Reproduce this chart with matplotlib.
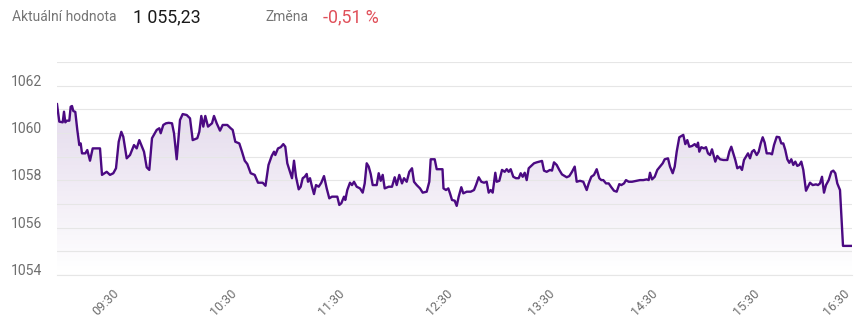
import numpy as np
import matplotlib.pyplot as plt
from matplotlib.patches import PathPatch
from matplotlib.colors import to_rgb

plt.rcParams['font.family'] = ['Roboto', 'DejaVu Sans']

# intraday quotes, position on the (ordinal) time axis and index value
pos = [0, 2.3, 5.7, 7, 8.3, 9.7, 12.3, 13.7, 15, 16.3, 18.3, 20.3, 22.3, 23.7, 25, 28.3, 30.3, 33, 35.7, 43,
       45, 49.7, 53, 56.3, 59, 61.7, 64.3, 66.3, 69.7, 73, 77, 79.7, 82.3, 85, 87, 89.7, 92.3, 95, 99.7, 102.3,
       103.7, 106.3, 109, 111.7, 115, 117, 119.7, 123, 125.7, 129.7, 133, 135.7, 140.3, 142.3, 144.3, 146.3, 148.3, 151, 155, 157,
       159.7, 163, 165.7, 170.3, 173.7, 175.7, 178.3, 182.3, 185, 187.7, 190.3, 193.7, 197.7, 201, 205.7, 208.5, 211.5, 214.7, 217, 218.3,
       221, 223.7, 226.3, 228.3, 230.3, 233, 235, 237, 239, 241.7, 243.7, 245.7, 247.7, 249.7, 251, 253, 255, 257, 259, 261.7,
       264.3, 267, 269.7, 272.3, 275, 280.3, 282.3, 284.3, 287, 288.3, 290.3, 293, 295, 297, 299.7, 303, 305.7, 307.7, 309.7, 311.7,
       313.7, 315.7, 319.7, 321.7, 323.7, 325.7, 327.7, 331.7, 335, 337.7, 339.7, 342.3, 345, 347, 349.7, 352.3, 355, 357, 359.7, 363,
       365.7, 369.7, 372.3, 373.7, 377.7, 379.7, 385.5, 386.5, 389, 391.3, 393, 395, 397.7, 399.7, 401.7, 404.3, 406.3, 409.7, 413.7, 417,
       419, 421.7, 424.3, 427, 429.7, 431.7, 433.7, 435.7, 438.3, 439.7, 442.3, 445, 447.7, 449.7, 451.7, 453.7, 456.3, 459, 461.7, 463.7,
       465.7, 467.7, 469.7, 471.7, 474.3, 477, 479.7, 485, 487, 489.7, 493, 495, 497, 499.7, 502.3, 505, 507.7, 509.7, 512.3, 515,
       517.7, 519.7, 523, 526.3, 529.7, 531.7, 534.3, 537, 539.7, 542.3, 544.3, 546.3, 549, 551.7, 554.3, 557, 559.7, 562.3, 564.3, 567,
       569, 571.7, 575, 579.7, 583, 586.3, 589.7, 591.7, 593, 595, 597.7, 600.3, 603, 605.7, 607.7, 611, 613, 615.7, 617.7, 619.7,
       622.3, 624.3, 626.3, 628.3, 630.3, 632.3, 635, 637.7, 639.7, 641, 642.3, 644.3, 647, 649, 651, 653, 655, 657, 658.3, 660.3,
       663, 666.3, 670.3, 672.3, 674.3, 676.3, 678.3, 680.3, 683, 685, 687, 689, 691, 693, 695, 697, 699.7, 701.7, 703.7, 705.7,
       707.7, 709.7, 713, 715, 717, 719.7, 722.3, 724.3, 726.3, 728.3, 730.3, 732.3, 734.3, 736.3, 738.3, 740.3, 742.3, 744.3, 746.3, 749,
       751, 753, 755.7, 759, 761, 763, 765, 767, 769, 771.7, 774.3, 776.3, 778.3, 780.3, 783, 786, 795]
values = [1061.22, 1060.48, 1060.45, 1060.90, 1060.45, 1060.52, 1060.52, 1061.11, 1061.14, 1060.93, 1060.89, 1060.13, 1059.49, 1059.56, 1059.14, 1059.14, 1059.28, 1058.83, 1059.35, 1059.35,
          1058.23, 1058.36, 1058.23, 1058.30, 1058.51, 1059.63, 1060.05, 1059.84, 1058.93, 1059.07, 1059.49, 1059.35, 1059.70, 1059.42, 1059.21, 1058.55, 1058.44, 1059.78, 1060.13, 1060.20,
          1059.99, 1060.34, 1060.41, 1060.43, 1060.41, 1059.99, 1058.89, 1060.55, 1060.80, 1060.76, 1060.62, 1059.70, 1059.78, 1060.05, 1060.72, 1060.27, 1060.72, 1060.27, 1060.41, 1060.72,
          1060.41, 1060.10, 1060.34, 1060.34, 1060.20, 1060.13, 1059.63, 1059.56, 1059.21, 1058.83, 1058.69, 1058.30, 1058.23, 1057.90, 1057.90, 1057.77, 1058.65, 1059.03, 1059.21, 1059.07,
          1059.35, 1059.40, 1059.53, 1059.42, 1058.72, 1058.36, 1058.09, 1058.83, 1058.15, 1057.62, 1057.73, 1058.09, 1058.15, 1058.27, 1057.94, 1058.09, 1057.73, 1057.42, 1057.80, 1057.73,
          1057.90, 1058.18, 1057.66, 1057.24, 1057.31, 1057.31, 1056.96, 1057.03, 1057.31, 1057.17, 1057.59, 1057.90, 1057.80, 1057.94, 1057.73, 1057.66, 1057.48, 1057.87, 1058.72, 1058.58,
          1058.27, 1057.80, 1057.80, 1058.30, 1057.98, 1058.23, 1057.66, 1057.73, 1057.73, 1058.13, 1057.80, 1058.23, 1057.87, 1058.09, 1057.94, 1058.36, 1058.51, 1057.94, 1057.80, 1057.66,
          1057.48, 1057.52, 1057.94, 1058.89, 1058.89, 1058.47, 1058.47, 1057.66, 1057.59, 1057.66, 1057.45, 1057.17, 1057.14, 1056.92, 1057.31, 1057.71, 1057.45, 1057.52, 1057.52, 1057.59,
          1057.80, 1058.13, 1057.94, 1057.90, 1057.94, 1057.48, 1057.59, 1057.48, 1058.32, 1057.94, 1057.98, 1058.44, 1058.36, 1058.47, 1058.36, 1058.47, 1058.15, 1058.09, 1058.09, 1058.30,
          1058.15, 1058.32, 1058.01, 1058.51, 1058.61, 1058.72, 1058.76, 1058.82, 1058.41, 1058.36, 1058.44, 1058.41, 1058.76, 1058.65, 1058.44, 1058.25, 1058.18, 1058.13, 1058.18, 1058.36,
          1058.58, 1057.94, 1057.98, 1057.94, 1057.59, 1057.87, 1058.15, 1058.23, 1058.47, 1058.09, 1058.01, 1058.01, 1057.87, 1057.87, 1057.71, 1057.56, 1057.52, 1057.84, 1057.80, 1057.87,
          1058.01, 1057.94, 1057.94, 1057.98, 1058.01, 1058.01, 1058.04, 1058.01, 1058.32, 1058.04, 1058.15, 1058.44, 1058.58, 1058.72, 1058.89, 1058.93, 1058.58, 1058.30, 1058.58, 1059.21,
          1059.82, 1059.87, 1059.92, 1059.53, 1059.70, 1059.42, 1059.45, 1059.53, 1059.42, 1059.59, 1059.21, 1059.40, 1059.35, 1059.40, 1059.14, 1059.07, 1059.31, 1059.00, 1058.79, 1059.03,
          1058.89, 1058.86, 1058.86, 1059.21, 1059.42, 1059.14, 1058.86, 1058.51, 1058.58, 1058.44, 1058.86, 1059.00, 1059.14, 1058.93, 1059.21, 1059.28, 1059.07, 1059.21, 1059.56, 1059.82,
          1059.59, 1059.14, 1059.14, 1059.10, 1059.49, 1059.84, 1059.82, 1059.56, 1059.56, 1059.28, 1058.89, 1058.74, 1058.89, 1058.65, 1058.79, 1058.61, 1058.65, 1058.79, 1058.44, 1057.56,
          1057.73, 1057.90, 1057.80, 1057.83, 1057.80, 1057.87, 1058.15, 1057.48, 1057.80, 1058.01, 1058.36, 1058.41, 1058.30, 1057.87, 1057.59, 1055.23, 1055.23]

tick_pos = [64.5, 182.7, 290.4, 398.1, 500.6, 603, 705.5, 795]
tick_labels = ['09:30', '10:30', '11:30', '12:30', '13:30', '14:30', '15:30', '16:30']
y_labels = [1054, 1056, 1058, 1060, 1062]
y_grid = [1055, 1057, 1059, 1061, 1063]

current_value = '1 055,23'
change = '-0,51 %'

line_color = '#4b0a82'
grid_color = '#e6e6e6'

fig = plt.figure(figsize=(8.64, 3.32), dpi=100)
ax = fig.add_axes([57 / 864, 1 - 275 / 332, 795 / 864, 213 / 332])

# area under the line, fading out towards the bottom
rgba = np.zeros((256, 1, 4))
rgba[..., :3] = to_rgb(line_color)
rgba[..., 3] = np.linspace(0.19, 0.0, 256).reshape(-1, 1)
img = ax.imshow(rgba, extent=[0, 795, 1054, 1063], aspect='auto', origin='upper', zorder=1)
area = ax.fill_between(pos, values, 1054, color='none', linewidth=0)
clip = PathPatch(area.get_paths()[0], transform=ax.transData, facecolor='none', edgecolor='none')
ax.add_patch(clip)
img.set_clip_path(clip)

ax.plot(pos, values, color=line_color, linewidth=1.7, zorder=3, solid_joinstyle='round')

ax.set_xlim(0, 795)
ax.set_ylim(1054, 1063)
ax.set_yticks(y_labels)
ax.set_yticks(y_grid, minor=True)
ax.grid(axis='y', which='both', color=grid_color, linewidth=0.8, zorder=2)
ax.set_axisbelow(False)
ax.set_xticks(tick_pos)
ax.set_xticklabels(tick_labels, rotation=45, ha='right', va='top')

for s in ['top', 'left', 'right']:
    ax.spines[s].set_visible(False)
ax.spines['bottom'].set_color(grid_color)
ax.spines['bottom'].set_linewidth(0.8)

ax.tick_params(axis='y', which='both', length=0, pad=10.8, labelsize=10.1, labelcolor='#6e6e6e')
ax.tick_params(axis='x', length=0, pad=8.6, labelsize=9, labelcolor='#6e6e6e')
for lab in ax.get_yticklabels():
    lab.set_verticalalignment('baseline')

# header line
fig.text(12 / 864, 1 - 17 / 332, 'Aktuální hodnota', fontsize=10, color='#757575', va='center')
fig.text(133 / 864, 1 - 17 / 332, current_value, fontsize=12.8, color='#1a1a1a', va='center')
fig.text(265 / 864, 1 - 17 / 332, 'Změna', fontsize=10, color='#757575', va='center')
fig.text(323 / 864, 1 - 17 / 332, change, fontsize=12.8, color='#e0505a', va='center')

fig.savefig('out.png', dpi=100)
